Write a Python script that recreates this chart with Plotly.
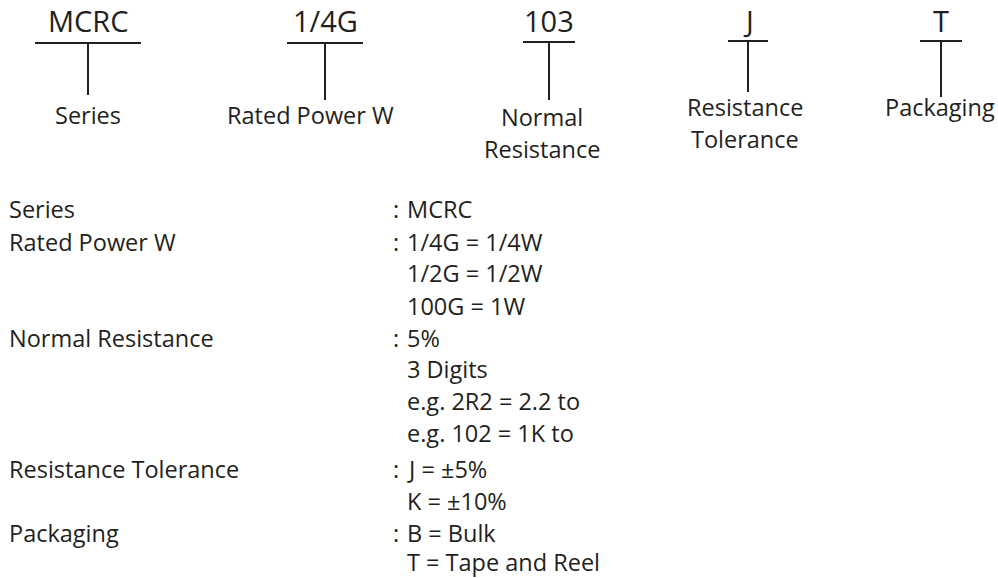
import plotly.graph_objects as go

# ---- content ----
codes = ["MCRC", "1/4G", "103", "J", "T"]
code_names = ["Series", "Rated Power W", "Normal\nResistance", "Resistance\nTolerance", "Packaging"]

spec_labels = ["Series", "Rated Power W", "", "", "Normal Resistance", "", "", "",
               "Resistance Tolerance", "", "Packaging", ""]
spec_values = ["MCRC", "1/4G = 1/4W", "1/2G = 1/2W", "100G = 1W", "5%", "3 Digits",
               "e.g. 2R2 = 2.2 to", "e.g. 102 = 1K to", "J = \u00b15%", "K = \u00b110%",
               "B = Bulk", "T = Tape and Reel"]

# ---- layout constants ----
W, H = 998, 578
INK = "#231f20"
FONT = "Open Sans"
LABEL_SIZE = 23.5
CODE_SIZE = 29
code_x = [88, 325, 549, 748, 941]
name_x = [88, 310, 542, 745, 940]
bar_half = [53, 38, 26, 20, 21]
bar_y = [43, 43, 42, 41, 41]
stem_end = [95, 100, 100, 92, 97]
code_text_y = 20
name_first_y = [115, 115, 117, 107, 107]
name_line_gap = 32
row_y = [209, 242, 273, 306, 338, 369, 401, 433, 469, 501, 533, 562]
label_x = 8
colon_x = 392
value_x = 406

fig = go.Figure()
shapes = []
annotations = []

for i, c in enumerate(codes):
    cx = code_x[i]
    annotations.append(dict(x=cx, y=code_text_y, text=c, showarrow=False,
                            xanchor="center", yanchor="middle", borderpad=0,
                            font=dict(family=FONT, size=CODE_SIZE, color=INK)))
    shapes.append(dict(type="line", x0=cx - bar_half[i], x1=cx + bar_half[i],
                       y0=bar_y[i], y1=bar_y[i], line=dict(color=INK, width=2)))
    shapes.append(dict(type="line", x0=cx, x1=cx, y0=bar_y[i], y1=stem_end[i],
                       line=dict(color=INK, width=2)))
    for j, part in enumerate(code_names[i].split("\n")):
        annotations.append(dict(x=name_x[i], y=name_first_y[i] + j * name_line_gap, text=part,
                                showarrow=False, xanchor="center", yanchor="middle", borderpad=0,
                                font=dict(family=FONT, size=LABEL_SIZE, color=INK)))

for k, (lab, val) in enumerate(zip(spec_labels, spec_values)):
    y = row_y[k]
    if lab:
        annotations.append(dict(x=label_x, y=y, text=lab, showarrow=False,
                                xanchor="left", yanchor="middle", borderpad=0,
                                font=dict(family=FONT, size=LABEL_SIZE, color=INK)))
        annotations.append(dict(x=colon_x, y=y, text=":", showarrow=False,
                                xanchor="left", yanchor="middle", borderpad=0,
                                font=dict(family=FONT, size=LABEL_SIZE, color=INK)))
    annotations.append(dict(x=value_x, y=y, text=val, showarrow=False,
                            xanchor="left", yanchor="middle", borderpad=0,
                            font=dict(family=FONT, size=LABEL_SIZE, color=INK)))

fig.update_layout(
    width=W, height=H,
    margin=dict(l=0, r=0, t=0, b=0),
    paper_bgcolor="white", plot_bgcolor="white",
    xaxis=dict(range=[0, W], visible=False, fixedrange=True),
    yaxis=dict(range=[H, 0], visible=False, fixedrange=True),
    shapes=shapes, annotations=annotations,
    showlegend=False,
)
fig.write_html("out.html", config={"displayModeBar": False},
               post_script="document.body.style.margin='0';document.body.style.overflow='hidden';")
